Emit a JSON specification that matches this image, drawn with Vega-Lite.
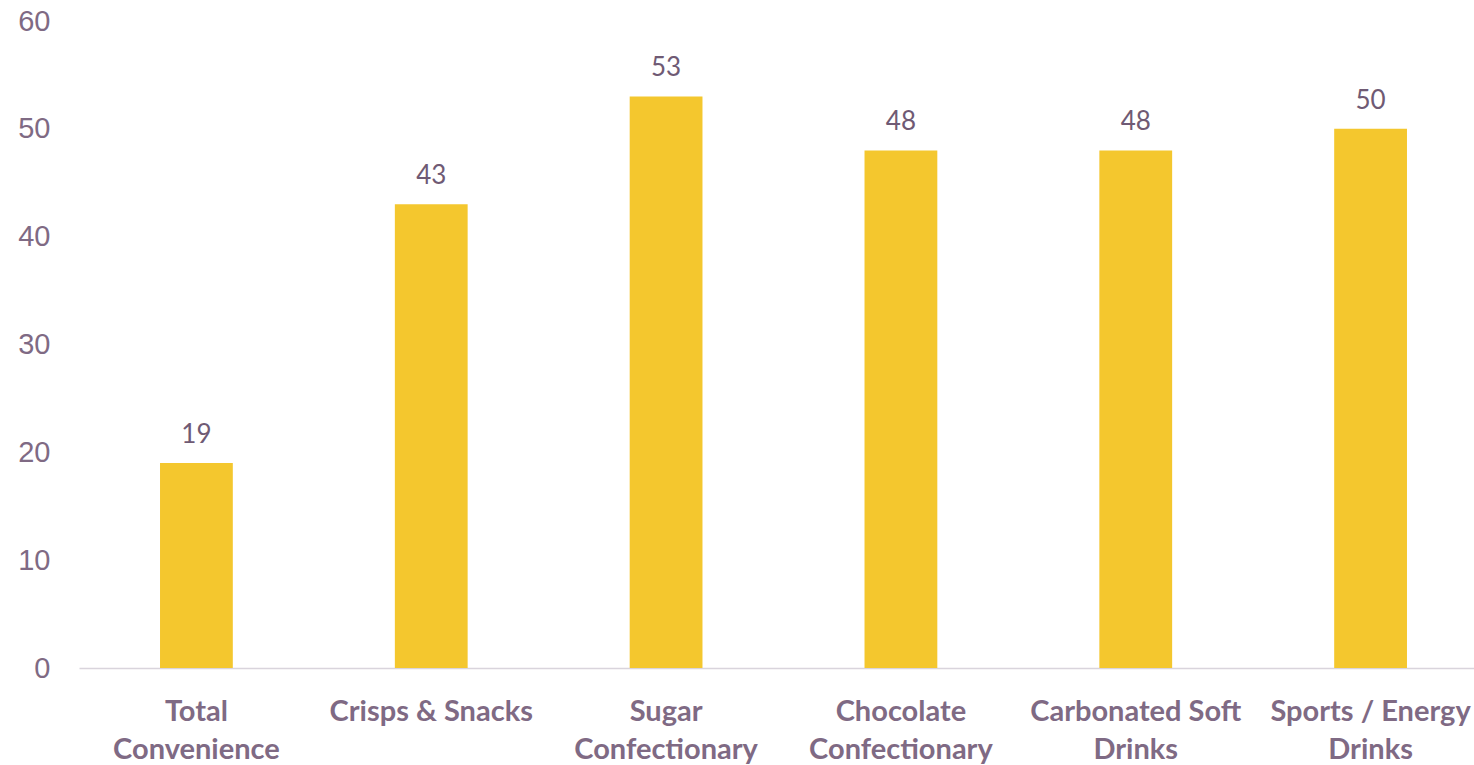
{
  "$schema": "https://vega.github.io/schema/vega-lite/v6.json",
  "width": 1409,
  "height": 647,
  "autosize": "none",
  "padding": {"left": 79, "top": 21, "right": 0, "bottom": 97},
  "background": "white",
  "config": {"view": {"stroke": null}},
  "data": {
    "values": [
      {"category": "Total|Convenience", "value": 19},
      {"category": "Crisps & Snacks", "value": 43},
      {"category": "Sugar|Confectionary", "value": 53},
      {"category": "Chocolate|Confectionary", "value": 48},
      {"category": "Carbonated Soft|Drinks", "value": 48},
      {"category": "Sports / Energy|Drinks", "value": 50}
    ]
  },
  "encoding": {
    "x": {
      "field": "category",
      "type": "nominal",
      "sort": null,
      "scale": {"paddingInner": 0.69, "paddingOuter": 0.345},
      "axis": {
        "title": null,
        "labelAngle": 0,
        "labelExpr": "split(datum.label, '|')",
        "labelFont": "Lato",
        "labelFontWeight": "bold",
        "labelFontSize": 29,
        "labelLineHeight": 38,
        "labelColor": "#7f6a84",
        "labelPadding": 29,
        "labelLimit": 400,
        "ticks": false,
        "domainColor": "#d9d4dc",
        "domainWidth": 1.5,
        "grid": false
      }
    },
    "y": {
      "field": "value",
      "type": "quantitative",
      "scale": {"domain": [0, 60], "nice": false},
      "axis": {
        "title": null,
        "values": [0, 10, 20, 30, 40, 50, 60],
        "labelFont": "Liberation Sans",
        "labelFontSize": 29,
        "labelColor": "#7f6a84",
        "labelPadding": 29,
        "ticks": false,
        "domain": false,
        "grid": false
      }
    }
  },
  "layer": [
    {"mark": {"type": "bar", "color": "#f4c72e"}},
    {
      "mark": {
        "type": "text",
        "font": "Lato",
        "fontSize": 26,
        "color": "#6f5a74",
        "baseline": "alphabetic",
        "dy": -20
      },
      "encoding": {"text": {"field": "value", "type": "quantitative"}}
    }
  ]
}
